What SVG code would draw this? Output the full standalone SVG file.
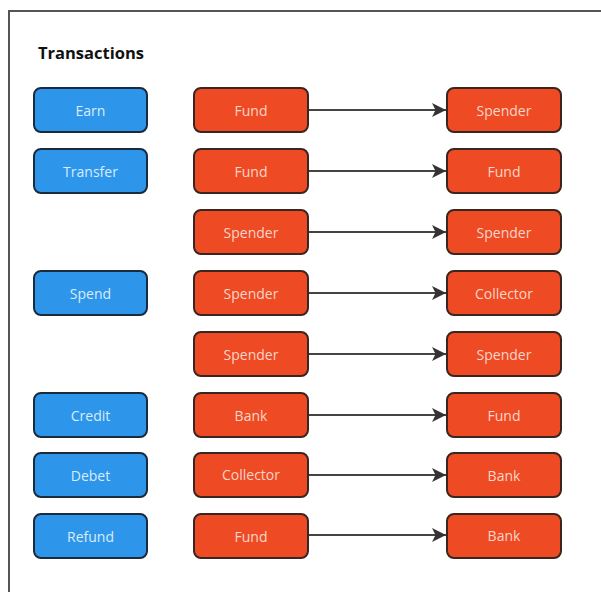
<svg xmlns="http://www.w3.org/2000/svg" width="601" height="592" viewBox="0 0 601 592">
<defs>
<style>
.frame{fill:none;stroke:#555;stroke-width:2}
.title{font-family:"Open Sans","Noto Sans",sans-serif;font-weight:bold;font-size:16.5px;fill:#111}
.blue rect{fill:#2e96ea;stroke:#1b2b3c;stroke-width:2}
.red rect{fill:#ee4a24;stroke:#3b2520;stroke-width:2}
.blue text{fill:#d8ecfb}
.red text{fill:#f9d6c8}
text.lbl{font-family:"Open Sans","Noto Sans",sans-serif;font-size:14px;text-anchor:middle;dominant-baseline:central}
.conn line{stroke:#444;stroke-width:2;marker-end:url(#ah)}
</style>
<marker id="ah" viewBox="0 0 10 10" refX="10" refY="5" markerWidth="14" markerHeight="14" markerUnits="userSpaceOnUse" orient="auto">
<path d="M0,0 L10,5 L0,10 L2.5,5 Z" fill="#333"/>
</marker>
</defs>
<rect width="601" height="592" fill="#fff"/>
<rect class="frame" x="9" y="11" width="600" height="600"/>
<text class="title" x="38" y="59">Transactions</text>

<g class="blue">
<g id="earn"><rect x="34" y="88" width="113" height="44" rx="7"/><text class="lbl" x="90.5" y="110">Earn</text></g>
<g id="transfer"><rect x="34" y="149" width="113" height="44" rx="7"/><text class="lbl" x="90.5" y="171">Transfer</text></g>
<g id="spend"><rect x="34" y="271" width="113" height="44" rx="7"/><text class="lbl" x="90.5" y="293">Spend</text></g>
<g id="credit"><rect x="34" y="393" width="113" height="44" rx="7"/><text class="lbl" x="90.5" y="415">Credit</text></g>
<g id="debet"><rect x="34" y="453" width="113" height="44" rx="7"/><text class="lbl" x="90.5" y="475">Debet</text></g>
<g id="refund"><rect x="34" y="514" width="113" height="44" rx="7"/><text class="lbl" x="90.5" y="536">Refund</text></g>
</g>

<g class="red">
<g id="src1"><rect x="194" y="88" width="114" height="44" rx="7"/><text class="lbl" x="251" y="110">Fund</text></g>
<g id="src2"><rect x="194" y="149" width="114" height="44" rx="7"/><text class="lbl" x="251" y="171">Fund</text></g>
<g id="src3"><rect x="194" y="210" width="114" height="44" rx="7"/><text class="lbl" x="251" y="232">Spender</text></g>
<g id="src4"><rect x="194" y="271" width="114" height="44" rx="7"/><text class="lbl" x="251" y="293">Spender</text></g>
<g id="src5"><rect x="194" y="332" width="114" height="44" rx="7"/><text class="lbl" x="251" y="354">Spender</text></g>
<g id="src6"><rect x="194" y="393" width="114" height="44" rx="7"/><text class="lbl" x="251" y="415">Bank</text></g>
<g id="src7"><rect x="194" y="453" width="114" height="44" rx="7"/><text class="lbl" x="251" y="474">Collector</text></g>
<g id="src8"><rect x="194" y="514" width="114" height="44" rx="7"/><text class="lbl" x="251" y="536">Fund</text></g>

<g id="dst1"><rect x="447" y="88" width="114" height="44" rx="7"/><text class="lbl" x="504" y="110">Spender</text></g>
<g id="dst2"><rect x="447" y="149" width="114" height="44" rx="7"/><text class="lbl" x="504" y="171">Fund</text></g>
<g id="dst3"><rect x="447" y="210" width="114" height="44" rx="7"/><text class="lbl" x="504" y="232">Spender</text></g>
<g id="dst4"><rect x="447" y="271" width="114" height="44" rx="7"/><text class="lbl" x="504" y="293">Collector</text></g>
<g id="dst5"><rect x="447" y="332" width="114" height="44" rx="7"/><text class="lbl" x="504" y="354">Spender</text></g>
<g id="dst6"><rect x="447" y="393" width="114" height="44" rx="7"/><text class="lbl" x="504" y="415">Fund</text></g>
<g id="dst7"><rect x="447" y="453" width="114" height="44" rx="7"/><text class="lbl" x="504" y="475">Bank</text></g>
<g id="dst8"><rect x="447" y="514" width="114" height="44" rx="7"/><text class="lbl" x="504" y="535">Bank</text></g>
</g>

<g class="conn">
<line x1="309" y1="110" x2="446" y2="110"/>
<line x1="309" y1="171" x2="446" y2="171"/>
<line x1="309" y1="232" x2="446" y2="232"/>
<line x1="309" y1="293" x2="446" y2="293"/>
<line x1="309" y1="354" x2="446" y2="354"/>
<line x1="309" y1="415" x2="446" y2="415"/>
<line x1="309" y1="475" x2="446" y2="475"/>
<line x1="309" y1="535" x2="446" y2="535"/>
</g>
</svg>
